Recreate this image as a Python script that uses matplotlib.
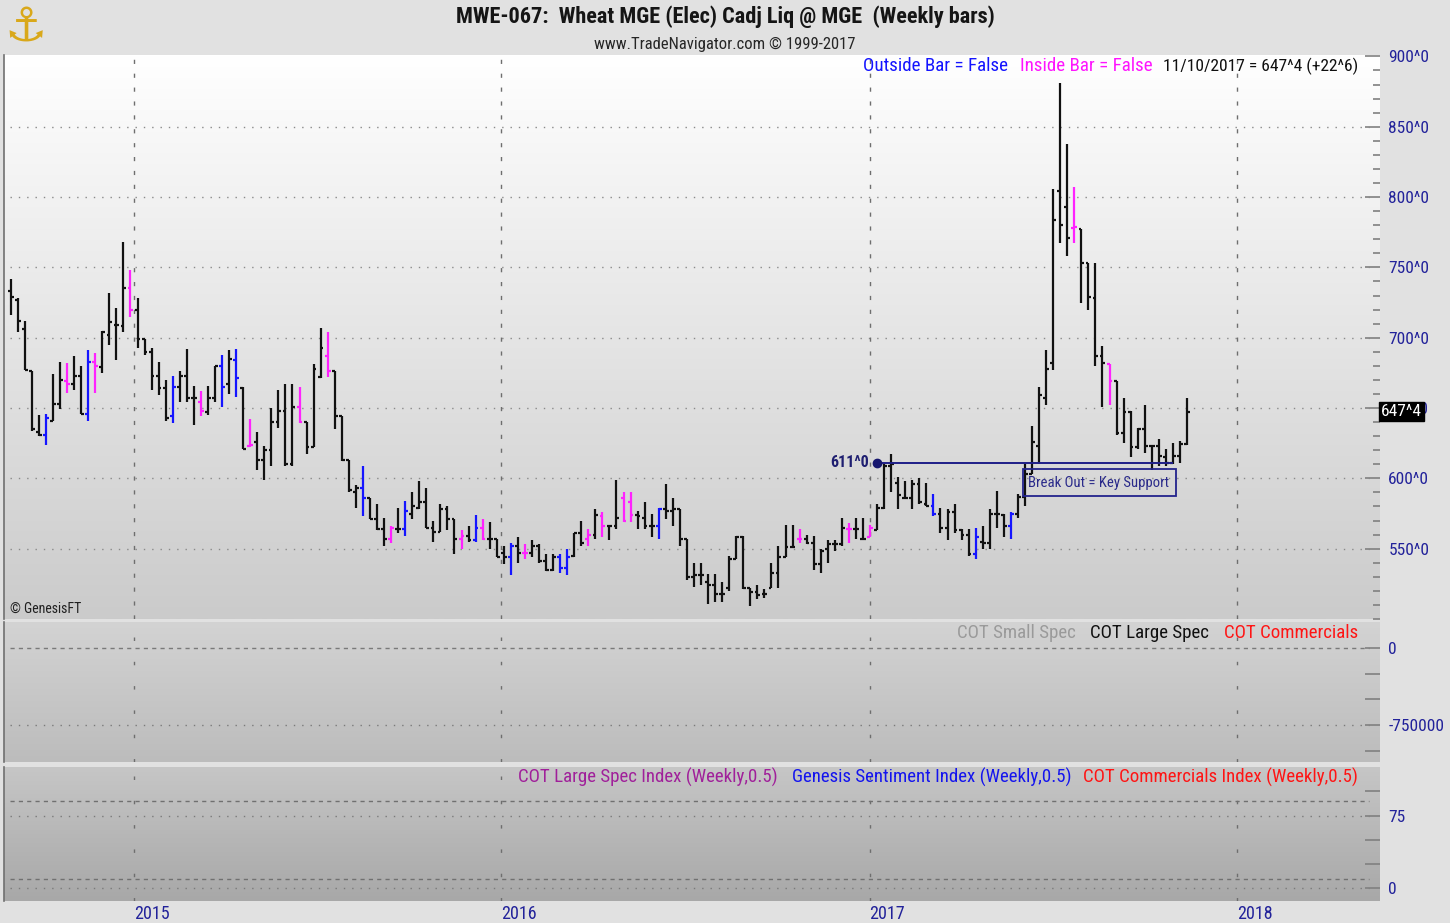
import datetime as dt
import numpy as np
import matplotlib
matplotlib.use("Agg")
import matplotlib.pyplot as plt
import matplotlib.dates as mdates
from matplotlib import font_manager as fm
from matplotlib.colors import LinearSegmentedColormap
from matplotlib.patches import Rectangle
from matplotlib.ticker import MultipleLocator, FixedLocator, FixedFormatter
from matplotlib.transforms import blended_transform_factory

# ---------------- data ----------------
first_week = dt.date(2014, 8, 29)   # weekly bars, last one 11/10/2017

opens = [733, 727, 706, 676, 633, 631, 641, 653, 669, 667, 673, 646, 683, 679, 702, 709, 708, 735, 720, 699,
         690, 673, 664, 644, 665, 673, 657, 654, 647, 657, 680, 667, 684, 664, 623, 626, 613, 620, 640, 648,
         610, 651, 640, 622, 672, 687, 676, 644, 613, 590, 593, 586, 571, 564, 557, 564, 564, 575, 579, 583,
         565, 562, 578, 571, 557, 559, 556, 565, 557, 557, 547, 544, 552, 547, 547, 552, 541, 535, 544, 536,
         545, 561, 557, 560, 573, 566, 566, 586, 583, 574, 572, 566, 566, 578, 577, 578, 557, 530, 531, 526,
         524, 518, 522, 543, 558, 522, 519, 518, 522, 533, 544, 551, 557, 557, 554, 539, 550, 553, 553, 564,
         564, 557, 558, 563, 579, 609, 597, 586, 586, 596, 582, 580, 575, 565, 576, 563, 560, 546, 555, 554,
         575, 574, 566, 575, 587, 603, 623, 657, 682, 804, 793, 778, 777, 753, 728, 687, 681, 669, 632, 647,
         622, 635, 623, 623, 615, 611, 616, 624.75]
highs = [742, 728, 712, 676, 645, 646, 674, 683, 682, 687, 680, 691, 689, 705, 732, 721, 768, 748, 728, 699,
         693, 683, 670, 673, 676, 692, 666, 662, 666, 680, 688, 691, 692, 665, 642, 633, 623, 650, 663, 667,
         667, 665, 640, 681, 707, 704, 676, 644, 613, 595, 609, 586, 582, 572, 566, 579, 584, 590, 598, 593,
         570, 582, 580, 571, 563, 566, 574, 571, 569, 557, 552, 554, 558, 553, 556, 553, 546, 546, 546, 550,
         561, 570, 564, 578, 576, 566, 599, 590, 590, 577, 583, 575, 579, 596, 586, 578, 557, 540, 540, 532,
         532, 526, 545, 559, 559, 522, 524, 521, 540, 552, 567, 567, 564, 560, 559, 550, 556, 556, 572, 568,
         572, 572, 567, 582, 610, 617, 601, 598, 599, 600, 597, 589, 579, 578, 582, 564, 564, 565, 566, 578,
         591, 575, 576, 589, 610, 637, 665, 691, 806, 881, 838, 807, 777, 753, 753, 694, 681, 669, 657, 648,
         636, 652, 624, 628, 621, 625, 626.5, 657]
lows = [716, 704, 677, 634, 630, 624, 641, 649, 661, 663, 646, 641, 661, 675, 695, 684, 704, 715, 693, 688,
        663, 659, 641, 639, 654, 654, 638, 644, 645, 654, 651, 660, 658, 621, 622, 606, 599, 609, 636, 609,
        609, 639, 617, 622, 671, 672, 635, 612, 590, 579, 573, 571, 563, 552, 554, 561, 559, 571, 578, 565,
        555, 562, 563, 546, 550, 555, 555, 556, 550, 544, 539, 531, 540, 543, 544, 540, 534, 534, 533, 531,
        544, 552, 552, 557, 558, 556, 564, 569, 569, 564, 564, 558, 557, 571, 566, 552, 528, 523, 524, 511,
        512, 512, 520, 543, 521, 509, 514, 515, 522, 522, 544, 551, 554, 553, 535, 533, 540, 548, 552, 554,
        557, 557, 558, 563, 578, 590, 578, 585, 578, 582, 580, 573, 561, 556, 561, 556, 545, 543, 550, 550,
        565, 558, 557, 572, 580, 603, 610, 652, 677, 767, 758, 767, 725, 720, 680, 651, 652, 631, 625, 615,
        621, 618, 606, 609, 609, 610, 611, 624]
closes = [729, 712, 677, 635, 631, 643, 653, 670, 667, 673, 646, 683, 680, 704, 711, 709, 735, 720, 699, 690,
          673, 664, 643, 665, 673, 657, 657, 648, 657, 680, 665, 685, 671, 621, 624, 613, 620, 640, 648, 610,
          651, 640, 622, 678, 693, 676, 644, 613, 592, 593, 586, 571, 564, 557, 565, 564, 577, 580, 583, 565,
          562, 578, 571, 557, 559, 556, 565, 557, 557, 544, 544, 552, 547, 547, 552, 541, 535, 544, 536, 544,
          561, 554, 560, 574, 566, 566, 572, 570, 574, 573, 566, 566, 578, 577, 578, 557, 530, 531, 531, 524,
          518, 518, 543, 558, 522, 519, 517, 518, 533, 544, 551, 551, 557, 554, 539, 548, 553, 553, 565, 564,
          564, 557, 565, 579, 609, 610, 588, 586, 596, 583, 580, 575, 565, 576, 563, 560, 546, 558, 554, 575,
          575, 566, 575, 587, 603, 626, 659, 678, 784, 780, 771, 779, 753, 729, 687, 682, 669, 632, 647, 622,
          635, 623, 623, 616, 611, 616, 624.75, 647.5]

outside_bar_weeks = [6, 12, 24, 31, 33, 51, 57, 67, 72, 79, 80, 93, 132, 138, 143]           # blue
inside_bar_weeks = [9, 13, 18, 28, 35, 42, 46, 55, 65, 68, 74, 83, 85, 88, 89, 113, 120, 123, 152, 157]  # magenta

price_ticks = [550, 600, 650, 700, 750, 800, 850, 900]
price_grid = [550, 600, 650, 700, 750, 800, 850]
cot_ticks = [0, -250000, -500000, -750000, -1000000]
cot_labels = {0: "0", -750000: "-750000"}
idx_ticks = [0, 25, 50, 75, 100]
idx_labels = {0: "0", 75: "75"}
years = [2015, 2016, 2017, 2018]

support_level = 611.0
support_start_week = 123     # 0-based bar index where the support line starts
support_end_week = 165
last_price_label = "647^4"
last_price = closes[-1]

# ---------------- fonts ----------------
names = {f.name for f in fm.fontManager.ttflist}
FONT = "DejaVu Sans"
for cand in ["Liberation Sans Narrow", "Arial Narrow", "Roboto Condensed", "Liberation Sans"]:
    if cand in names:
        FONT = cand
        break
plt.rcParams["font.family"] = [FONT, "DejaVu Sans"]

# ---------------- figure ----------------
W, H = 1450, 923
fig = plt.figure(figsize=(W / 100, H / 100), dpi=100, facecolor="#e1e1e1")


def rect(x0, y0, x1, y1):
    return [x0 / W, 1 - y1 / H, (x1 - x0) / W, (y1 - y0) / H]


def gradient_bg(r, top, bottom):
    bg = fig.add_axes(r, zorder=0)
    cmap = LinearSegmentedColormap.from_list("g", [top, bottom])
    bg.imshow(np.linspace(0, 1, 256).reshape(-1, 1), aspect="auto", cmap=cmap,
              extent=(0, 1, 0, 1), interpolation="bilinear")
    bg.axis("off")
    return bg


r1 = rect(4, 55, 1380, 619)
r2 = rect(4, 622, 1380, 762)
r3 = rect(4, 767, 1380, 901)
gradient_bg(r1, "#ffffff", "#cbcbcb")
gradient_bg(r2, "#d3d3d3", "#bcbcbc")
gradient_bg(r3, "#c6c6c6", "#a8a8a8")

ax1 = fig.add_axes(r1, zorder=2)
ax2 = fig.add_axes(r2, zorder=2, sharex=ax1)
ax3 = fig.add_axes(r3, zorder=2, sharex=ax1)

NAVY = "#22229a"
for ax in (ax1, ax2, ax3):
    ax.patch.set_visible(False)
    for s in ("top", "right", "bottom"):
        ax.spines[s].set_visible(False)
    ax.spines["left"].set_color("#707070")
    ax.spines["left"].set_linewidth(1.2)
    ax.yaxis.tick_right()
    ax.tick_params(axis="y", which="major", direction="in", length=11, width=1.2,
                   color="#808080", labelcolor=NAVY, labelsize=12.5, pad=6)
    ax.tick_params(axis="y", which="minor", direction="in", length=5, width=1.2, color="#808080")
    ax.tick_params(axis="x", length=0, labelbottom=False)

# ---------------- price bars ----------------
weeks = [first_week + dt.timedelta(weeks=i) for i in range(len(closes))]
x = mdates.date2num(weeks)
colors = []
for i in range(len(closes)):
    if (i + 1) in outside_bar_weeks:
        colors.append("#1515ff")
    elif (i + 1) in inside_bar_weeks:
        colors.append("#ff22ff")
    else:
        colors.append("#111111")

tick = 2.8  # days
ax1.vlines(x, lows, highs, colors=colors, lw=1.6, zorder=5)
ax1.hlines(opens, x - tick, x, colors=colors, lw=1.6, zorder=5)
ax1.hlines(closes, x, x + tick, colors=colors, lw=1.6, zorder=5)

xmin = x[0] - 6.7
xmax = x[-1] + 27.4 * 7
ax1.set_xlim(xmin, xmax)
ax1.set_ylim(500, 901)

ax1.set_yticks(price_ticks)
ax1.set_yticklabels([f"{p}^0" for p in price_ticks])
ax1.yaxis.set_minor_locator(MultipleLocator(10))
for p in price_grid:
    ax1.axhline(p, xmin=0.004, xmax=0.992, color="#8a8a8a", lw=1.0, ls=(0, (1, 5)), zorder=1)

year_x = mdates.date2num([dt.date(y, 1, 1) for y in years])
for yx in year_x:
    ax1.axvline(yx - 2.5, color="#6e6e6e", lw=1.0, ls=(0, (3, 7)), zorder=1)
    ax2.axvline(yx - 2.5, color="#6e6e6e", lw=1.0, ls=(0, (2.5, 15)), zorder=1)
    ax3.axvline(yx - 2.5, color="#6e6e6e", lw=1.0, ls=(0, (2.5, 15)), zorder=1)

# support annotation
xs, xe = x[support_start_week], x[support_end_week]
ax1.hlines(support_level, xs, xe, color="#1e1e88", lw=1.4, zorder=6)
ax1.plot([xs], [support_level], "o", color="#16166e", ms=6, zorder=7)
ax1.annotate(f"{int(support_level)}^0", (xs, support_level), xytext=(-6, 0),
             textcoords="offset points", ha="right", va="center", color="#1e1e70",
             fontsize=11.5, fontweight="bold")
bx0 = x[144] - 2.0
bx1 = x[165] + 3.5
ax1.add_patch(Rectangle((bx0, 587.2), bx1 - bx0, 19.2, fill=False, ec="#23238c", lw=1.3, zorder=6))
ax1.text(bx0 + 4.5, 596.8, "Break Out = Key Support", ha="left", va="center",
         color="#2a2a8a", fontsize=10.6, zorder=7)

# last price box (covers the 650^0 label like in the platform)
trans = blended_transform_factory(ax1.transAxes, ax1.transData)
ax1.text(1.0008, last_price, last_price_label, transform=trans, ha="left", va="center",
         color="white", fontsize=12.5, zorder=10,
         bbox=dict(boxstyle="square,pad=0.12", fc="black", ec="black"))

# ---------------- COT panel ----------------
ax2.set_ylim(-1110390, 253247)
ax2.yaxis.set_major_locator(FixedLocator(cot_ticks))
ax2.yaxis.set_major_formatter(FixedFormatter([cot_labels.get(v, "") for v in cot_ticks]))
ax2.axhline(0, xmin=0.004, xmax=0.992, color="#7a7a7a", lw=1.0, ls=(0, (3, 3)), zorder=1)
ax2.axhline(-750000, xmin=0.004, xmax=0.992, color="#7a7a7a", lw=1.0, ls=(0, (1, 5)), zorder=1)

# ---------------- index panel ----------------
ax3.set_ylim(-13.1, 125.3)
ax3.yaxis.set_major_locator(FixedLocator(idx_ticks))
ax3.yaxis.set_major_formatter(FixedFormatter([idx_labels.get(v, "") for v in idx_ticks]))
for lvl in (90, 10):
    ax3.axhline(lvl, xmin=0.004, xmax=0.992, color="#707070", lw=1.0, ls=(0, (3, 3)), zorder=1)
for lvl in (75, 0):
    ax3.axhline(lvl, xmin=0.004, xmax=0.992, color="#7a7a7a", lw=1.0, ls=(0, (1, 5)), zorder=1)

ax3.set_xticks(year_x - 2.5)
ax3.set_xticklabels([str(y) for y in years])
ax3.tick_params(axis="x", length=0, labelbottom=True, labelcolor=NAVY, labelsize=13, pad=3)
for lbl in ax3.get_xticklabels():
    lbl.set_horizontalalignment("left")
ax1.set_xlim(xmin, xmax)

# ---------------- texts ----------------
def ftext(px, py, s, **kw):
    kw.setdefault("va", "center")
    kw.setdefault("ha", "left")
    fig.text(px / W, 1 - py / H, s, **kw)

ftext(725, 17, "MWE-067:  Wheat MGE (Elec) Cadj Liq @ MGE  (Weekly bars)", ha="center",
      fontsize=16, fontweight="bold", color="#151515")
ftext(725, 44, "www.TradeNavigator.com \u00a9 1999-2017", ha="center", fontsize=12, color="#262626")
ftext(26, 28, "\u2693", ha="center", fontsize=34, color="#d9a81a", family="DejaVu Sans")

ftext(863, 66, "Outside Bar = False", color="#1414ff", fontsize=13.7, zorder=5)
ftext(1020, 66, "Inside Bar = False", color="#ff14ff", fontsize=13.7, zorder=5)
ftext(1358, 66, "11/10/2017 = 647^4 (+22^6)", ha="right", color="#101010", fontsize=12.6, zorder=5)

ftext(10, 609, "\u00a9 GenesisFT", color="#202020", fontsize=10, zorder=5)

ftext(957, 633, "COT Small Spec", color="#9a9a9a", fontsize=13.6, zorder=5)
ftext(1090, 633, "COT Large Spec", color="#101010", fontsize=13.6, zorder=5)
ftext(1358, 633, "COT Commercials", ha="right", color="#ff1414", fontsize=13.6, zorder=5)

ftext(518, 777, "COT Large Spec Index (Weekly,0.5)", color="#a0209a", fontsize=13.6, zorder=5)
ftext(792, 777, "Genesis Sentiment Index (Weekly,0.5)", color="#1414ee", fontsize=13.6, zorder=5)
ftext(1358, 777, "COT Commercials Index (Weekly,0.5)", ha="right", color="#ff1414", fontsize=13.6, zorder=5)

fig.savefig("out.png", dpi=100, facecolor=fig.get_facecolor())
